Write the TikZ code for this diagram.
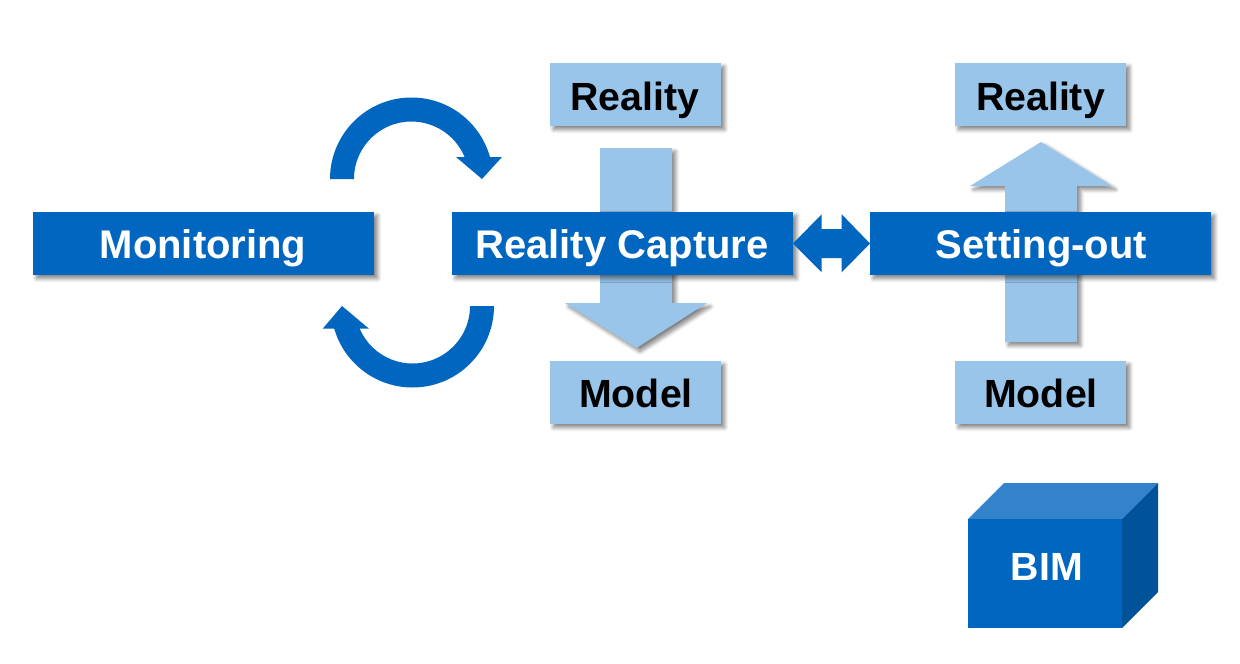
\documentclass[tikz,border=0pt]{standalone}
\usepackage{fontspec}
\setmainfont{Liberation Sans}
\usetikzlibrary{shadows.blur}
\definecolor{mainblue}{HTML}{0066BF}
\definecolor{lightblue}{HTML}{99C5EA}
\definecolor{topblue}{HTML}{3383CC}
\definecolor{sideblue}{HTML}{005299}
\tikzset{
  softshadow/.style={blur shadow={shadow xshift=3.5pt,shadow yshift=-3.5pt,shadow blur radius=4pt,shadow blur steps=8,shadow opacity=50}},
  darkbox/.style={rectangle,fill=mainblue,text=white,font=\fontsize{40}{44}\selectfont\bfseries,minimum width=341pt,minimum height=63pt,inner sep=0pt,softshadow},
  lightbox/.style={rectangle,fill=lightblue,text=black,font=\fontsize{39.3}{44}\selectfont\bfseries,minimum width=171pt,minimum height=63pt,inner sep=0pt,softshadow},
  barlabel/.style={text=white,font=\fontsize{40}{44}\selectfont\bfseries,inner sep=0pt,text height=29pt,text depth=0pt},
  boxlabel/.style={text=black,font=\fontsize{39.3}{44}\selectfont\bfseries,inner sep=0pt,text height=29pt,text depth=0pt},
  lightarrow/.style={fill=lightblue,softshadow},
  darkarrow/.style={fill=mainblue}
}
\begin{document}
\begin{tikzpicture}[x=1pt,y=-1pt]
\useasboundingbox (0,0) rectangle (1240,664);
% block arrows behind the bars
\path[lightarrow] (600,148) -- (672,148) -- (672,303) -- (707,303) -- (636.5,348) -- (565,303) -- (600,303) -- cycle;
\path[lightarrow] (1005,342) -- (1077,342) -- (1077,186) -- (1112,186) -- (1041,142) -- (970,186) -- (1005,186) -- cycle;
% bars
\node[darkbox] (mon) at (203.5,243.5) {};
\node[darkbox] (cap) at (622.5,243.5) {};
\node[darkbox] (set) at (1040.5,243.5) {};
\node[barlabel] (monl) at (203,243.5) {Monitoring};
\node[barlabel] (capl) at (622,243.5) {Reality Capture};
\node[barlabel] (setl) at (1041.5,243.5) {Setting-out};
% light boxes
\node[lightbox] (r1) at (635.5,94.5) {};
\node[lightbox] (m1) at (635.5,392.5) {};
\node[lightbox] (r2) at (1040.5,94.5) {};
\node[lightbox] (m2) at (1040.5,392.5) {};
\node[boxlabel] (r1l) at (635,95.5) {Reality};
\node[boxlabel] (m1l) at (636,393) {Model};
\node[boxlabel] (r2l) at (1040.5,95.5) {Reality};
\node[boxlabel] (m2l) at (1041,393) {Model};
% double arrow
\path[darkarrow] (793,243.5) -- (821.7,214.3) -- (821.7,229) -- (841.7,229) -- (841.7,214.3) -- (870,243.5) -- (841.7,272.3) -- (841.7,258) -- (821.7,258) -- (821.7,272.3) -- cycle;
% circular arrows
\path[darkarrow] (330,179) arc[start angle=-180,end angle=-15.66,radius=81.5] -- (502,157) -- (482,179) -- (456,157) -- (464.6,157) arc[start angle=-22.5,end angle=-180,radius=57.5] -- cycle;
\path[darkarrow] (494,306) arc[start angle=0,end angle=163.8,radius=81.5] -- (322.7,328.7) -- (342,306) -- (369,328.7) -- (359.7,328.7) arc[start angle=156.75,end angle=0,radius=57.5] -- cycle;
% cube
\path[fill=topblue] (968,519) -- (1004,483) -- (1158,483) -- (1122,519) -- cycle;
\path[fill=sideblue] (1122,519) -- (1158,483) -- (1158,592) -- (1122,628) -- cycle;
\node[rectangle,fill=mainblue,minimum width=154pt,minimum height=109pt,inner sep=0pt] (bim) at (1045,573.5) {};
\node[text=white,font=\fontsize{39.3}{44}\selectfont\bfseries,inner sep=0pt] (bimt) at (1047,567) {BIM};
\end{tikzpicture}
\end{document}
